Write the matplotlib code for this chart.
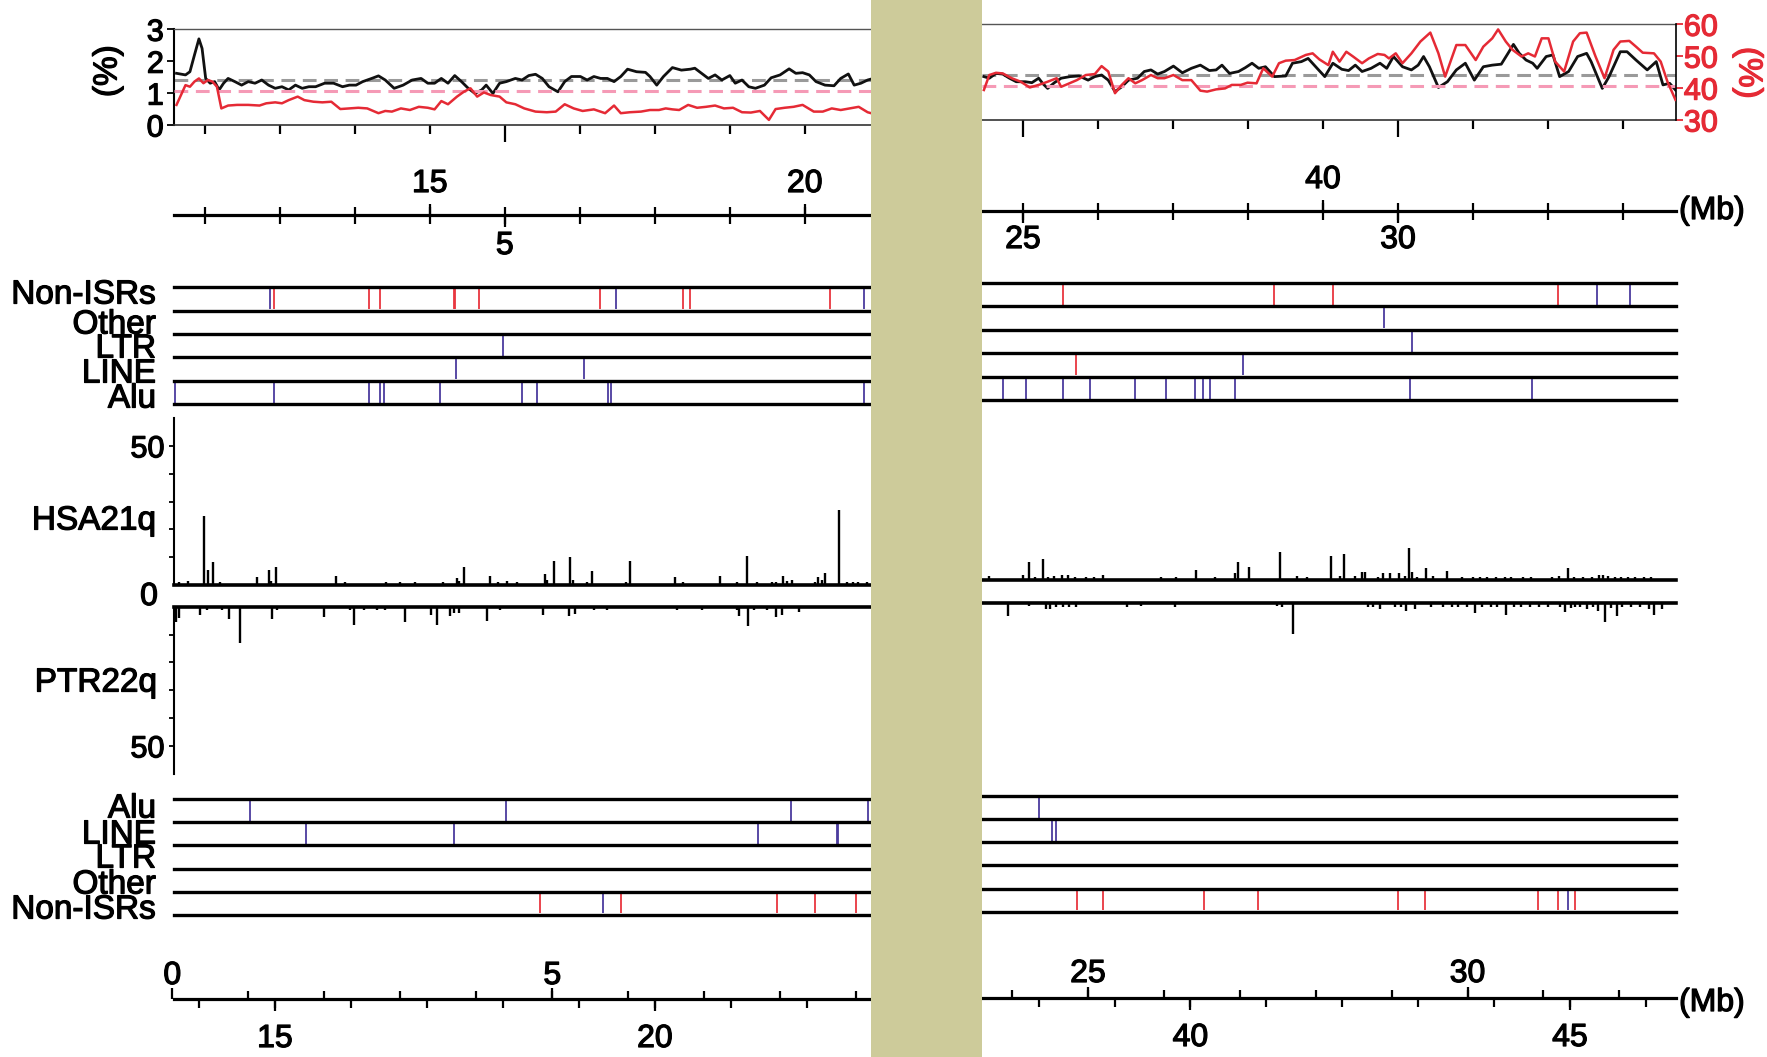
import numpy as np
import matplotlib.pyplot as plt
import matplotlib.patheffects as pe
from matplotlib.patches import Rectangle

W, H = 1767, 1057
plt.rcParams['font.family'] = ['Liberation Sans', 'DejaVu Sans']

# ---------------- data ----------------
# top panel: black = left axis (%), red = right axis (%), positions in HSA21 Mb
black_left_mb = [0.623, 0.743, 0.802, 0.862, 0.922, 0.964, 1.012, 1.072, 1.132, 1.191, 1.251, 1.311, 1.401,
                 1.491, 1.580, 1.670, 1.760, 1.850, 1.939, 2.029, 2.119, 2.209, 2.299, 2.388, 2.478, 2.598,
                 2.717, 2.837, 2.927, 3.017, 3.106, 3.226, 3.316, 3.406, 3.525, 3.645, 3.765, 3.884, 3.974,
                 4.064, 4.154, 4.243, 4.333, 4.423, 4.513, 4.602, 4.692, 4.752, 4.842, 4.931, 5.021, 5.141,
                 5.230, 5.320, 5.410, 5.500, 5.590, 5.709, 5.799, 5.889, 6.008, 6.098, 6.188, 6.278, 6.368,
                 6.457, 6.547, 6.637, 6.757, 6.876, 6.936, 7.026, 7.116, 7.235, 7.355, 7.475, 7.534, 7.624,
                 7.714, 7.804, 7.894, 8.001, 8.073, 8.163, 8.253, 8.342, 8.462, 8.552, 8.671, 8.791, 8.881,
                 8.971, 9.061, 9.150, 9.270, 9.390, 9.479, 9.581, 9.659, 9.749, 9.838, 9.90]
black_left = [1.62, 1.57, 1.67, 2.19, 2.70, 2.40, 1.46, 1.31, 1.36, 1.10, 1.31, 1.46, 1.36,
              1.25, 1.36, 1.31, 1.41, 1.25, 1.15, 1.20, 1.10, 1.25, 1.15, 1.20, 1.20, 1.31,
              1.31, 1.20, 1.25, 1.25, 1.36, 1.46, 1.54, 1.41, 1.15, 1.25, 1.41, 1.46, 1.31,
              1.31, 1.46, 1.31, 1.55, 1.36, 1.15, 0.99, 1.10, 1.25, 0.99, 1.31, 1.36, 1.46,
              1.41, 1.55, 1.59, 1.46, 1.20, 1.04, 1.36, 1.52, 1.52, 1.41, 1.52, 1.46, 1.46,
              1.36, 1.52, 1.75, 1.67, 1.65, 1.52, 1.25, 1.52, 1.80, 1.72, 1.75, 1.78, 1.62,
              1.46, 1.57, 1.41, 1.55, 1.31, 1.41, 1.20, 1.15, 1.25, 1.48, 1.57, 1.76, 1.62,
              1.64, 1.57, 1.36, 1.25, 1.23, 1.46, 1.60, 1.25, 1.31, 1.41, 1.45]
red_left_mb = [0.623, 0.683, 0.743, 0.802, 0.862, 0.922, 0.982, 1.042, 1.102, 1.162, 1.221, 1.311, 1.431,
               1.580, 1.730, 1.820, 1.939, 2.029, 2.119, 2.239, 2.328, 2.448, 2.568, 2.687, 2.807, 2.927,
               3.047, 3.166, 3.316, 3.406, 3.495, 3.615, 3.735, 3.854, 3.974, 4.064, 4.154, 4.243, 4.363,
               4.453, 4.543, 4.632, 4.722, 4.812, 4.931, 5.021, 5.141, 5.260, 5.410, 5.560, 5.679, 5.799,
               5.919, 6.038, 6.188, 6.338, 6.457, 6.547, 6.667, 6.816, 6.936, 7.056, 7.146, 7.235, 7.325,
               7.445, 7.564, 7.684, 7.804, 7.923, 8.043, 8.163, 8.282, 8.402, 8.522, 8.611, 8.731, 8.851,
               8.971, 9.120, 9.240, 9.360, 9.479, 9.599, 9.719, 9.838, 9.90]
red_left = [36.3, 39.4, 42.5, 42.0, 43.6, 44.6, 43.1, 44.1, 43.6, 42.0, 35.2, 36.1, 36.3,
            36.3, 36.1, 36.8, 37.1, 36.8, 37.8, 38.9, 37.8, 37.3, 37.1, 37.3, 35.0, 35.2,
            35.4, 35.2, 33.7, 34.4, 34.2, 35.2, 34.7, 35.7, 35.4, 34.9, 37.5, 36.5, 38.9,
            40.4, 41.5, 38.9, 40.2, 39.4, 38.9, 37.1, 36.5, 35.2, 34.2, 34.0, 34.2, 36.5,
            35.2, 34.4, 34.9, 33.7, 36.1, 33.7, 34.0, 34.2, 34.7, 34.7, 35.2, 34.9, 34.7,
            36.3, 35.4, 35.7, 36.1, 35.2, 35.4, 34.0, 33.9, 34.4, 31.6, 35.0, 35.4, 35.7,
            36.3, 34.2, 34.2, 35.2, 34.7, 35.2, 35.7, 34.0, 33.6]
black_right_mb = [24.479, 24.551, 24.640, 24.730, 24.820, 24.910, 25.030, 25.119, 25.209, 25.269, 25.329,
                  25.419, 25.509, 25.628, 25.748, 25.868, 25.958, 26.048, 26.137, 26.227, 26.317, 26.407,
                  26.527, 26.617, 26.706, 26.796, 26.886, 27.006, 27.125, 27.245, 27.365, 27.485, 27.575,
                  27.653, 27.754, 27.874, 27.964, 28.054, 28.143, 28.233, 28.353, 28.503, 28.593, 28.712,
                  28.802, 28.922, 29.024, 29.132, 29.251, 29.341, 29.431, 29.521, 29.641, 29.760, 29.850,
                  29.940, 30.060, 30.179, 30.269, 30.341, 30.419, 30.539, 30.659, 30.778, 30.898, 31.018,
                  31.138, 31.257, 31.377, 31.467, 31.539, 31.617, 31.707, 31.796, 31.856, 31.976, 32.066,
                  32.155, 32.275, 32.395, 32.515, 32.575, 32.724, 32.814, 32.964, 33.054, 33.173, 33.323,
                  33.443, 33.533, 33.622, 33.700]
black_right = [1.36, 1.31, 1.46, 1.44, 1.31, 1.20, 1.20, 1.17, 1.31, 1.13, 0.99,
               1.17, 1.31, 1.36, 1.38, 1.25, 1.36, 1.41, 1.25, 0.89, 1.04, 1.25,
               1.31, 1.52, 1.57, 1.44, 1.52, 1.69, 1.48, 1.62, 1.72, 1.55, 1.57,
               1.72, 1.46, 1.52, 1.64, 1.78, 1.62, 1.67, 1.36, 1.38, 1.78, 1.83,
               1.93, 1.62, 1.36, 1.78, 1.59, 1.55, 1.72, 1.52, 1.62, 1.78, 1.62,
               1.99, 1.67, 1.57, 1.72, 1.99, 1.67, 1.02, 1.20, 1.57, 1.78, 1.25,
               1.67, 1.72, 1.75, 2.09, 2.37, 2.09, 1.88, 1.78, 1.62, 1.99, 2.04,
               1.36, 1.52, 1.99, 2.09, 1.83, 0.99, 1.36, 2.14, 2.14, 1.88, 1.57,
               1.83, 1.10, 1.15, 0.94]
red_right_mb = [24.479, 24.551, 24.640, 24.730, 24.850, 24.970, 25.090, 25.209, 25.329, 25.449, 25.509,
                25.599, 25.718, 25.838, 25.958, 26.048, 26.137, 26.227, 26.317, 26.407, 26.497, 26.587,
                26.706, 26.796, 26.886, 27.006, 27.125, 27.245, 27.365, 27.455, 27.575, 27.694, 27.784,
                27.904, 27.994, 28.114, 28.203, 28.323, 28.413, 28.503, 28.622, 28.772, 28.862, 28.952,
                29.072, 29.131, 29.221, 29.311, 29.401, 29.521, 29.611, 29.730, 29.820, 29.880, 29.970,
                30.060, 30.179, 30.299, 30.431, 30.539, 30.629, 30.778, 30.898, 31.036, 31.138, 31.257,
                31.335, 31.437, 31.527, 31.647, 31.736, 31.826, 31.916, 32.006, 32.096, 32.215, 32.335,
                32.425, 32.515, 32.634, 32.754, 32.874, 32.964, 33.084, 33.173, 33.263, 33.413, 33.503,
                33.593, 33.700]
red_right = [39.4, 44.1, 44.8, 44.6, 43.1, 42.0, 40.2, 41.0, 42.0, 43.1, 40.4,
             41.3, 42.5, 44.1, 44.4, 46.9, 45.2, 38.4, 41.0, 43.1, 41.5, 42.5,
             44.1, 43.1, 43.1, 44.1, 42.5, 42.5, 39.2, 38.9, 39.6, 39.9, 41.0,
             41.0, 41.7, 41.5, 46.2, 43.6, 47.8, 48.6, 48.8, 50.4, 50.9, 49.0,
             47.2, 51.4, 48.3, 51.4, 49.9, 47.8, 49.3, 50.7, 50.4, 49.3, 50.9,
             47.8, 50.9, 54.6, 57.4, 50.9, 43.6, 53.5, 53.5, 48.8, 53.0, 55.6,
             58.4, 54.6, 52.0, 49.9, 50.9, 49.9, 55.6, 55.6, 48.3, 45.2, 54.6,
             57.2, 57.4, 49.9, 43.1, 52.0, 54.6, 54.8, 53.0, 51.1, 50.9, 48.3,
             42.0, 36.3]
black_mean = 1.40
red_mean = 40.7

# repeat tracks, HSA21q coordinates (Mb)
hsa_nonisr_red = [1.92, 3.185, 3.335, 4.32, 4.34, 4.66, 6.27, 7.37, 7.47, 9.34, 25.53, 28.35, 29.13, 32.14]
hsa_nonisr_blue = [1.87, 6.48, 9.79, 32.66, 33.09]
hsa_other_blue = [29.82]
hsa_ltr_blue = [4.97, 30.19]
hsa_line_red = [25.71]
hsa_line_blue = [4.345, 6.05, 27.93]
hsa_alu_blue = [0.60, 1.92, 3.185, 3.335, 3.395, 4.14, 5.23, 5.43, 6.37, 6.41, 9.79,
                24.73, 25.04, 25.53, 25.90, 26.50, 26.91, 27.29, 27.40, 27.50, 27.83, 30.16, 31.79]

# repeat tracks, PTR22q coordinates (Mb)
ptr_alu_blue = [1.02, 4.39, 8.14, 9.16, 24.36]
ptr_line_blue = [1.76, 3.71, 7.70, 8.74, 8.76, 24.52, 24.58]
ptr_ltr_blue = []
ptr_other_blue = []
ptr_nonisr_red = [4.84, 5.91, 7.95, 8.45, 9.0, 24.86, 25.20, 26.53, 27.24, 29.08, 29.44, 30.93, 31.19, 31.41]
ptr_nonisr_blue = [5.67, 31.32]

# histogram bars
hsa_bar_mb = [0.650, 0.771, 0.983, 1.043, 1.103, 1.206, 1.695, 1.858, 1.888, 1.949, 2.746, 2.873, 3.416,
              3.598, 3.809, 4.171, 4.365, 4.395, 4.455, 4.799, 4.908, 5.029, 5.168, 5.530, 5.560, 5.651,
              5.874, 5.905, 6.098, 6.158, 6.611, 6.671, 7.275, 7.372, 7.867, 8.090, 8.235, 8.362, 8.562,
              8.622, 8.713, 8.761, 8.827, 9.135, 9.177, 9.226, 9.274, 9.455, 9.558, 9.649, 9.709, 9.830,
              24.545, 24.994, 25.084, 25.156, 25.264, 25.336, 25.414, 25.516, 25.606, 25.696, 25.846,
              25.948, 26.068, 26.835, 27.045, 27.303, 27.554, 27.824, 27.872, 28.016, 28.424, 28.651,
              28.783, 29.113, 29.233, 29.275, 29.431, 29.515, 29.563, 29.730, 29.802, 29.892, 30.012,
              30.090, 30.150, 30.192, 30.252, 30.372, 30.462, 30.654, 30.851, 31.001, 31.091, 31.181,
              31.301, 31.421, 31.511, 31.661, 31.769, 32.051, 32.141, 32.272, 32.350, 32.470, 32.590,
              32.680, 32.740, 32.800, 32.890, 32.980, 33.070, 33.160, 33.280, 33.370]
hsa_bar_val = [1.2, 1.6, 24.8, 5.4, 8.4, 1.2, 2.8, 5.4, 1.6, 6.6, 3.4, 1.2, 1.2,
               1.2, 1.2, 1.2, 2.4, 1.6, 6.6, 3.4, 1.2, 1.6, 1.2, 4.0, 1.8, 8.7,
               9.9, 1.8, 1.2, 5.0, 1.2, 8.7, 2.8, 1.2, 3.4, 1.2, 10.5, 1.2, 1.2,
               1.2, 3.2, 1.6, 1.8, 1.2, 2.8, 1.8, 4.4, 26.9, 1.2, 1.2, 1.2, 1.2,
               1.4, 1.8, 6.3, 1.0, 7.5, 1.0, 1.4, 1.8, 1.8, 1.2, 1.0,
               1.2, 1.8, 1.0, 1.0, 3.6, 1.0, 2.4, 6.3, 4.8, 10.2, 1.4,
               1.0, 8.6, 1.4, 9.2, 1.4, 3.0, 3.0, 1.0, 2.4, 2.6, 2.4,
               1.4, 11.4, 3.0, 1.0, 4.2, 1.4, 3.2, 1.0, 1.0, 1.0, 1.2,
               1.0, 1.0, 1.0, 1.0, 1.2, 1.0, 1.4, 4.2, 1.0, 1.0, 1.2,
               1.8, 1.8, 1.4, 1.2, 1.2, 1.0, 1.0, 1.0, 1.0]
ptr_bar_mb = [0.02, 0.05, 0.09, 0.369, 0.452, 0.649, 0.750, 0.887, 1.316, 1.376, 1.990, 2.335, 2.395,
              2.526, 2.693, 2.794, 3.062, 3.402, 3.479, 3.658, 3.700, 3.777, 4.135, 4.314, 4.880, 5.220,
              5.297, 5.553, 5.714, 6.638, 6.965, 7.424, 7.460, 7.579, 7.651, 7.829, 7.937, 8.026, 8.247,
              23.943, 24.222, 24.447, 24.506, 24.577, 24.666, 24.755, 24.844, 25.513, 25.703, 26.147,
              27.492, 27.551, 27.705, 28.695, 28.754, 28.843, 29.050, 29.127, 29.186, 29.305, 29.524,
              29.672, 29.790, 29.879, 29.998, 30.099, 30.193, 30.312, 30.383, 30.513, 30.608, 30.709,
              30.827, 30.946, 31.064, 31.212, 31.283, 31.360, 31.420, 31.479, 31.568, 31.657, 31.716,
              31.805, 31.894, 31.970, 32.041, 32.160, 32.267, 32.385, 32.456, 32.563]
ptr_bar_val = [5.6, 5.6, 4.0, 2.9, 1.2, 1.2, 4.5, 13.2, 4.5, 1.2, 3.8, 1.2, 6.5,
               1.2, 1.2, 1.2, 5.5, 2.9, 6.5, 3.3, 2.4, 2.1, 5.1, 1.2, 2.9, 3.5,
               2.7, 1.2, 1.2, 1.2, 1.2, 1.2, 3.3, 7.1, 1.2, 1.2, 3.8, 2.9, 1.8,
               4.4, 0.9, 2.0, 2.0, 1.2, 1.2, 1.2, 1.2, 1.4, 0.9, 1.2,
               0.9, 1.4, 11.2, 1.4, 1.2, 2.0, 1.2, 1.4, 2.9, 2.1, 1.2,
               1.2, 1.2, 1.2, 1.2, 3.5, 1.2, 1.2, 1.4, 4.1, 1.2, 1.2,
               1.2, 1.2, 1.2, 1.4, 3.2, 1.8, 1.2, 1.4, 2.1, 1.4, 2.9,
               6.8, 1.8, 4.7, 1.4, 1.2, 1.2, 2.1, 4.1, 2.0]

track_names_hsa = ['Non-ISRs', 'Other', 'LTR', 'LINE', 'Alu']
track_names_ptr = ['Alu', 'LINE', 'LTR', 'Other', 'Non-ISRs']

mid_upper_labels = [15, 20, 40]      # upper scale = HSA + 11
mid_lower_labels = [5, 25, 30]
mid_offset = 11
bot_upper_labels = [0, 5, 25, 30]    # PTR scale
bot_lower_labels = [15, 20, 40, 45]  # PTR + 13.65
bot_offset = 13.65

# ---------------- layout (pixels) ----------------
LX0, GAP0, GAP1, RX1 = 173.5, 871, 981.5, 1675.5
HSA_L = (0.583, 9.883)
HSA_R = (24.447, 33.70)
PTR_L = (0.016, 9.193)
PTR_R = (23.597, 32.74)

RED = '#e52a35'
MARK_RED = '#e8363f'
MARK_BLUE = '#4b3c9e'
NUM = 22
LAB = 24
HEAVY = [pe.withStroke(linewidth=0.9, foreground='black')]
HEAVY_RED = [pe.withStroke(linewidth=0.9, foreground=RED)]

fig = plt.figure(figsize=(W / 100, H / 100), dpi=100)


def px_axes(x0, x1, y0, y1):
    return fig.add_axes([x0 / W, 1 - y1 / H, (x1 - x0) / W, (y1 - y0) / H])


def ftext(x, y, s, **kw):
    kw.setdefault('path_effects', HEAVY)
    fig.text(x / W, 1 - y / H, s, **kw)


def top_panel(x0, x1, y0, y1, xlim, bx, by, rx, ry, side):
    ax = px_axes(x0, x1, y0, y1)
    ax.set_xlim(xlim)
    ax.set_ylim(0, 3)
    axr = ax.twinx()
    axr.set_ylim(30, 60)
    ax.axhline(black_mean, color='#9a9a9a', lw=2.2, dashes=(4.5, 2.5), zorder=1)
    axr.axhline(red_mean, color='#f59ab6', lw=2.2, dashes=(4.5, 2.5), zorder=1)
    ax.plot(bx, by, color='#111111', lw=2.0, zorder=3)
    axr.plot(rx, ry, color=RED, lw=1.8, zorder=3)
    for a in (ax, axr):
        for s in a.spines.values():
            s.set_visible(False)
    ax.spines['top'].set_visible(True)
    ax.spines['top'].set_color('#555555')
    ax.spines['top'].set_linewidth(1.0)
    ax.spines['bottom'].set_visible(True)
    ax.spines['bottom'].set_color('#333333')
    ax.spines['bottom'].set_linewidth(1.2)
    ticks = np.arange(np.ceil(xlim[0]), np.floor(xlim[1]) + 1)
    major = [t for t in ticks if t % 5 == 0]
    minor = [t for t in ticks if t % 5 != 0]
    ax.set_xticks(major)
    ax.set_xticks(minor, minor=True)
    ax.tick_params(axis='x', which='major', direction='out', length=12, width=1.6, labelbottom=False)
    ax.tick_params(axis='x', which='minor', direction='out', length=6.5, width=1.6)
    if side == 'left':
        ax.spines['left'].set_visible(True)
        ax.spines['left'].set_linewidth(1.5)
        ax.set_yticks([0, 1, 2, 3])
        ax.tick_params(axis='y', length=5, width=1.3, pad=2, labelsize=NUM)
        for t in ax.get_yticklabels():
            t.set_path_effects(HEAVY)
        axr.set_yticks([])
    else:
        axr.spines['right'].set_visible(True)
        axr.spines['right'].set_linewidth(1.2)
        axr.set_yticks([30, 40, 50, 60])
        axr.tick_params(axis='y', length=5, width=1.3, pad=1, labelsize=NUM,
                        colors=RED)
        for t in axr.get_yticklabels():
            t.set_path_effects(HEAVY_RED)
        ax.set_yticks([])
    return ax


def track_panel(x0, x1, y0, y1, xlim, rows):
    ax = px_axes(x0, x1, y0, y1)
    ax.set_xlim(xlim)
    ax.set_ylim(5, 0)
    ax.axis('off')
    for i, (reds, blues) in enumerate(rows):
        if reds:
            ax.vlines(reds, i + 0.06, i + 0.94, color=MARK_RED, lw=1.3)
        if blues:
            ax.vlines(blues, i + 0.06, i + 0.94, color=MARK_BLUE, lw=1.3)
    for y in range(6):
        ax.axhline(y, color='black', lw=2.4, clip_on=False)
    return ax


def bar_panel(x0, x1, y0, y1, xlim, mb, val, flip, side):
    ax = px_axes(x0, x1, y0, y1)
    ax.set_xlim(xlim)
    ax.set_ylim((60, 0) if flip else (0, 60))
    ax.vlines(mb, 0, val, color='black', lw=1.7)
    ax.axhline(0, color='black', lw=2.6, clip_on=False)
    for s in ax.spines.values():
        s.set_visible(False)
    ax.set_xticks([])
    if side == 'left':
        ax.spines['left'].set_visible(True)
        ax.spines['left'].set_linewidth(1.5)
        ax.set_yticks([10, 20, 30, 40, 50])
        ax.set_yticklabels(['', '', '', '', '50'])
        ax.tick_params(axis='y', length=3.5, width=1.3, pad=3, labelsize=NUM)
        for t in ax.get_yticklabels():
            t.set_path_effects(HEAVY)
    else:
        ax.set_yticks([])
    return ax


def scale_panel(x0, x1, yc, xlim, offset, up_labels, down_labels, up_in_lower, up_y, dn_y):
    # y units are pixels, positive downward
    ax = px_axes(x0, x1, yc - 45, yc + 45)
    ax.set_xlim(xlim)
    ax.set_ylim(45, -45)
    ax.axis('off')
    ax.axhline(0, color='black', lw=2.3, clip_on=False)
    ticks = np.arange(np.ceil(xlim[0]), np.floor(xlim[1]) + 1)
    lo_vals = np.arange(np.ceil(xlim[0] + offset), np.floor(xlim[1] + offset) + 1)
    lo_ticks = lo_vals - offset
    if up_in_lower:
        # upper labels belong to the scale shifted by offset, lower labels to the base scale
        up_pos = [v - offset for v in up_labels]
        dn_pos = list(down_labels)
        up_ticks, dn_ticks = lo_ticks, ticks
    else:
        up_pos = list(up_labels)
        dn_pos = [v - offset for v in down_labels]
        up_ticks, dn_ticks = ticks, lo_ticks
    ax.vlines(up_ticks, -8, 0, color='black', lw=1.6, clip_on=False)
    ax.vlines(dn_ticks, 0, 9, color='black', lw=1.6, clip_on=False)
    up_vis = [(p, v) for p, v in zip(up_pos, up_labels) if xlim[0] - 0.05 <= p <= xlim[1]]
    dn_vis = [(p, v) for p, v in zip(dn_pos, down_labels) if xlim[0] - 0.05 <= p <= xlim[1]]
    if up_vis:
        ax.vlines([p for p, _ in up_vis], -11, 0, color='black', lw=1.6, clip_on=False)
    if dn_vis:
        ax.vlines([p for p, _ in dn_vis], 0, 12, color='black', lw=1.6, clip_on=False)
    for p, v in up_vis:
        ax.text(p, up_y, str(v), ha='center', va='center', fontsize=NUM + 1, clip_on=False,
                path_effects=HEAVY)
    for p, v in dn_vis:
        ax.text(p, dn_y, str(v), ha='center', va='center', fontsize=NUM + 1, clip_on=False,
                path_effects=HEAVY)
    return ax


# top panel
top_panel(LX0, GAP0, 29.3, 125, HSA_L, black_left_mb, black_left, red_left_mb, red_left, 'left')
top_panel(GAP1, RX1, 24.3, 120, HSA_R, black_right_mb, black_right, red_right_mb, red_right, 'right')
ftext(108, 71, '(%)', rotation=90, ha='center', va='center', fontsize=NUM + 2)
ftext(1748, 73, '(%)', rotation=270, ha='center', va='center', fontsize=NUM + 2, color=RED,
      path_effects=HEAVY_RED)

# HSA scale
scale_panel(LX0, GAP0, 215, HSA_L, mid_offset, mid_upper_labels, mid_lower_labels, True, -31, 31)
scale_panel(GAP1, RX1, 211, HSA_R, mid_offset, mid_upper_labels, mid_lower_labels, True, -31, 29)
ftext(1712, 211, '(Mb)', ha='center', va='center', fontsize=NUM + 1)

# HSA tracks
hsa_rows = [(hsa_nonisr_red, hsa_nonisr_blue), ([], hsa_other_blue), ([], hsa_ltr_blue),
            (hsa_line_red, hsa_line_blue), ([], hsa_alu_blue)]
track_panel(LX0, GAP0, 287.3, 404, HSA_L, hsa_rows)
track_panel(GAP1, RX1, 282.7, 400.3, HSA_R, hsa_rows)
for name, y in zip(track_names_hsa, [295, 325, 349, 374, 399]):
    ftext(156, y, name, ha='right', va='center', fontsize=LAB)

# bar panels
bar_panel(LX0, GAP0, 418, 585, HSA_L, hsa_bar_mb, hsa_bar_val, False, 'left')
bar_panel(GAP1, RX1, 413, 580, HSA_R, hsa_bar_mb, hsa_bar_val, False, 'right')
bar_panel(LX0, GAP0, 606.7, 773.7, PTR_L, ptr_bar_mb, ptr_bar_val, True, 'left')
bar_panel(GAP1, RX1, 603.3, 770.3, PTR_R, ptr_bar_mb, ptr_bar_val, True, 'right')
ftext(149, 597, '0', ha='center', va='center', fontsize=NUM + 1)
ftext(156, 521, 'HSA21q', ha='right', va='center', fontsize=LAB)
ftext(157, 683, 'PTR22q', ha='right', va='center', fontsize=LAB)

# PTR tracks
ptr_rows = [([], ptr_alu_blue), ([], ptr_line_blue), ([], ptr_ltr_blue), ([], ptr_other_blue),
            (ptr_nonisr_red, ptr_nonisr_blue)]
track_panel(LX0, GAP0, 799.3, 914.7, PTR_L, ptr_rows)
track_panel(GAP1, RX1, 795.7, 911.7, PTR_R, ptr_rows)
for name, y in zip(track_names_ptr, [809, 835, 859, 885, 910]):
    ftext(156, y, name, ha='right', va='center', fontsize=LAB)

# PTR scale
scale_panel(LX0, GAP0, 999, PTR_L, bot_offset, bot_upper_labels, bot_lower_labels, False, -23, 40)
scale_panel(GAP1, RX1, 998, PTR_R, bot_offset, bot_upper_labels, bot_lower_labels, False, -24, 40)
ftext(1712, 1003, '(Mb)', ha='center', va='center', fontsize=NUM + 1)

# khaki band covering the gap
fig.add_artist(Rectangle((GAP0 / W, 0), (GAP1 - GAP0) / W, 1, transform=fig.transFigure,
                         facecolor='#cdcb9a', edgecolor='none', zorder=20))

fig.savefig('out.png', dpi=100)
